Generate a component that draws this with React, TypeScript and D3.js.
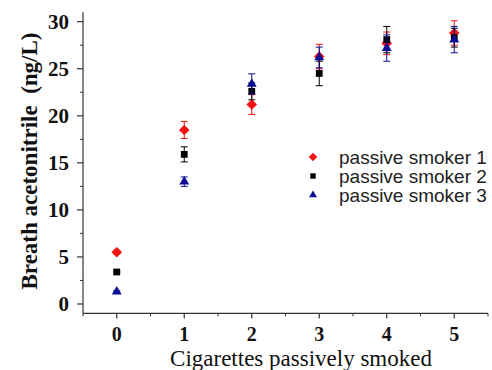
import React from "react";
import * as d3 from "d3";

const xCategories = [0, 1, 2, 3, 4, 5];
const seriesNames = ["passive smoker 1", "passive smoker 2", "passive smoker 3"];
const smoker1 = [5.5, 18.5, 21.2, 26.3, 27.7, 28.8];
const smoker1Err = [0.2, 0.9, 1.05, 1.3, 1.2, 1.3];
const smoker2 = [3.4, 15.9, 22.6, 24.5, 28.1, 28.3];
const smoker2Err = [0.1, 0.8, 0.9, 1.3, 1.4, 1.0];
const smoker3 = [1.3, 13.0, 23.4, 26.2, 27.2, 28.1];
const smoker3Err = [0.1, 0.5, 1.06, 1.1, 1.4, 1.4];
const yTicks = [0, 5, 10, 15, 20, 25, 30];
const yMinorTicks = [2.5, 7.5, 12.5, 17.5, 22.5, 27.5];
const xMinorTicks = [-0.5, 0.5, 1.5, 2.5, 3.5, 4.5, 5.5];

const W = 492;
const H = 370;

const squareDiamond = {
  draw(ctx: any, size: number) {
    const r = Math.sqrt(size / 2);
    ctx.moveTo(0, -r);
    ctx.lineTo(r, 0);
    ctx.lineTo(0, r);
    ctx.lineTo(-r, 0);
    ctx.closePath();
  },
};

export default function App() {
  const x = d3.scaleLinear().domain([-0.5, 5.5]).range([83, 488]);
  const y = d3.scaleLinear().domain([-1, 31]).range([313.4, 12.3]);
  const series = [
    { name: seriesNames[0], vals: smoker1, errs: smoker1Err, color: "#f21414", shape: "diamond" },
    { name: seriesNames[1], vals: smoker2, errs: smoker2Err, color: "#000000", shape: "square" },
    { name: seriesNames[2], vals: smoker3, errs: smoker3Err, color: "#0c0c96", shape: "triangle" },
  ];
  const sym = (shape: string) => {
    if (shape === "diamond") return d3.symbol(squareDiamond as any, 56)();
    if (shape === "square") return d3.symbol(d3.symbolSquare, 46)();
    return d3.symbol(d3.symbolTriangle, 42)();
  };
  const axisColor = "#333";
  const serif = "'Liberation Serif', 'Times New Roman', serif";
  const sans = "'Liberation Sans', Arial, sans-serif";
  const x0 = x.range()[0];
  const yBase = y.range()[0];

  return (
    <svg width={W} height={H} style={{ position: "absolute", left: 0, top: 0, background: "#fff" }}>
      <line x1={x0} x2={x0} y1={y.range()[1]} y2={yBase} stroke={axisColor} strokeWidth={1.2} />
      <line x1={x0} x2={x.range()[1]} y1={yBase} y2={yBase} stroke={axisColor} strokeWidth={1.2} />
      {yTicks.map((t) => (
        <g key={"yt" + t}>
          <line x1={x0 - 6} x2={x0} y1={y(t)} y2={y(t)} stroke={axisColor} strokeWidth={1.2} />
          <text x={69} y={y(t)} dy="0.35em" textAnchor="end" fontFamily={serif} fontWeight="bold" fontSize={21} fill="#111">
            {t}
          </text>
        </g>
      ))}
      {yMinorTicks.map((t) => (
        <line key={"ym" + t} x1={x0 - 3} x2={x0} y1={y(t)} y2={y(t)} stroke={axisColor} strokeWidth={1} />
      ))}
      {xCategories.map((c) => (
        <g key={"xt" + c}>
          <line x1={x(c)} x2={x(c)} y1={yBase} y2={yBase + 5} stroke={axisColor} strokeWidth={1.2} />
          <text x={x(c)} y={341} textAnchor="middle" fontFamily={serif} fontWeight="bold" fontSize={20} fill="#111">
            {c}
          </text>
        </g>
      ))}
      {xMinorTicks.map((t) => (
        <line key={"xm" + t} x1={x(t)} x2={x(t)} y1={yBase} y2={yBase + 3} stroke={axisColor} strokeWidth={1} />
      ))}
      <text x={301} y={366} textAnchor="middle" fontFamily={serif} fontSize={23} fill="#111">
        Cigarettes passively smoked
      </text>
      <text
        transform={`translate(37, 161) rotate(-90)`}
        textAnchor="middle"
        fontFamily={serif}
        fontWeight="bold"
        fontSize={23}
        fill="#111"
        style={{ whiteSpace: "pre" }}
      >
        {"Breath acetonitrile  (ng/L)"}
      </text>

      {series.map((s) => (
        <g key={s.name}>
          {s.vals.map((v, i) => {
            const cx = x(xCategories[i]);
            const e = s.errs[i];
            return (
              <g key={i}>
                <line x1={cx} x2={cx} y1={y(v - e)} y2={y(v + e)} stroke={s.color} strokeWidth={1} />
                <line x1={cx - 3.5} x2={cx + 3.5} y1={y(v - e)} y2={y(v - e)} stroke={s.color} strokeWidth={1} />
                <line x1={cx - 3.5} x2={cx + 3.5} y1={y(v + e)} y2={y(v + e)} stroke={s.color} strokeWidth={1} />
                <path d={sym(s.shape) || ""} transform={`translate(${cx},${y(v)})`} fill={s.color} />
              </g>
            );
          })}
        </g>
      ))}

      {series.map((s, i) => (
        <g key={"lg" + i} transform={`translate(313, ${157 + i * 19})`}>
          <path d={sym(s.shape) || ""} fill={s.color} transform="scale(0.8)" />
          <text x={26} y={0} dy="0.35em" fontFamily={sans} fontSize={19} fill="#222">
            {s.name}
          </text>
        </g>
      ))}
    </svg>
  );
}
